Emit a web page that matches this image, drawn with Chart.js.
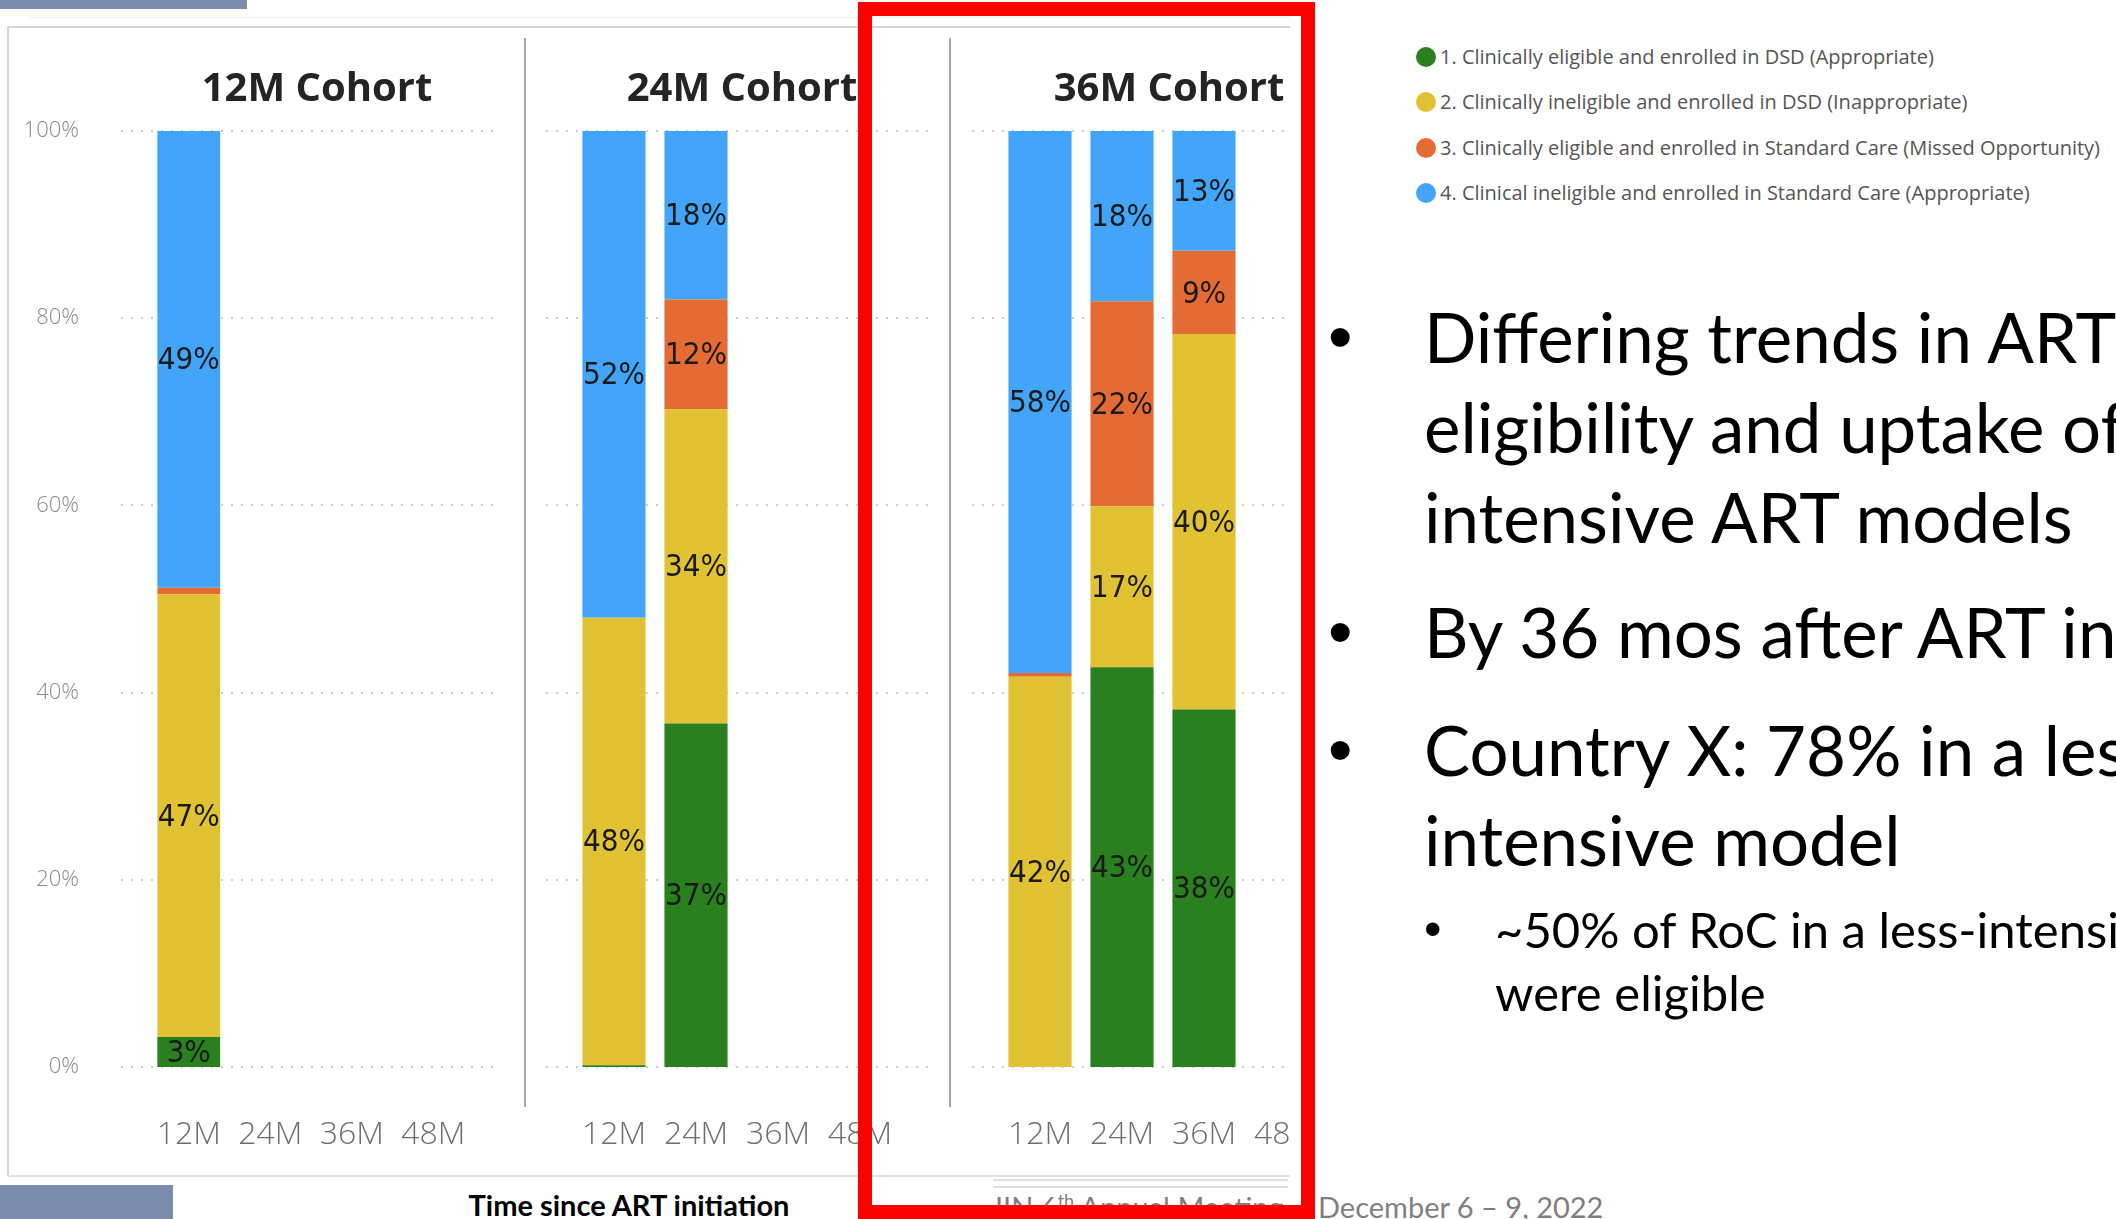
<!DOCTYPE html>
<html>
<head>
<meta charset="utf-8">
<script src="https://cdn.jsdelivr.net/npm/chart.js@4.4.1/dist/chart.umd.min.js"></script>
<style>
  html, body { margin: 0; padding: 0; }
  body { width: 2116px; height: 1219px; overflow: hidden; position: relative; background: #fff; }
  .abs { position: absolute; }
  .line { position: absolute; background: #d6d6d6; }
  .title { position: absolute; width: 400px; text-align: center; font-family: 'Open Sans', sans-serif; font-weight: 700; font-size: 40px; line-height: 50px; color: #252423; white-space: nowrap; }
  .legend-row { position: absolute; left: 1416px; height: 20px; font-family: 'Open Sans', sans-serif; font-size: 20px; line-height: 20px; color: #555; white-space: nowrap; }
  .legend-row span.dot { position: absolute; left: 0; top: 0; width: 20px; height: 20px; border-radius: 50%; }
  .legend-row span.txt { position: absolute; left: 24px; top: 0; }
  .bullet-text { position: absolute; font-family: Lato, 'Open Sans', sans-serif; color: #000; white-space: nowrap; }
  .bullet { position: absolute; font-family: 'Liberation Sans', Arial, sans-serif; color: #000; }
  .footer { position: absolute; font-family: Lato, sans-serif; font-size: 29px; line-height: 36px; color: #7f7f7f; white-space: nowrap; }
</style>
</head>
<body>

<!-- slide decorations -->
<div class="abs" style="left:0;top:0;width:247px;height:9px;background:#7b8cac"></div>
<div class="abs" style="left:0;top:1185px;width:173px;height:34px;background:#7b8cac"></div>
<div class="line" style="left:29px;top:17px;width:1261px;height:1px;background:#eeeeee"></div>
<div class="line" style="left:8px;top:26px;width:1282px;height:2px"></div>
<div class="line" style="left:7px;top:26px;width:2px;height:1150px"></div>
<div class="line" style="left:8px;top:1175px;width:1282px;height:2px;background:#e2e2e2"></div>
<div class="line" style="left:993px;top:1179px;width:295px;height:2px;background:#dcdcdc"></div>
<div class="line" style="left:993px;top:1186px;width:295px;height:2px;background:#dcdcdc"></div>

<!-- charts -->
<canvas id="chart12" class="abs" style="left:0;top:0" width="525" height="1180"></canvas>
<canvas id="chart24" class="abs" style="left:525px;top:0" width="425" height="1180"></canvas>
<div class="abs" style="left:950px;top:0;width:340px;height:1180px;overflow:hidden">
  <canvas id="chart36" class="abs" style="left:0;top:0" width="450" height="1180"></canvas>
</div>

<div class="line" style="left:524px;top:38px;width:2px;height:1069px;background:#a6a6a6"></div>
<div class="line" style="left:949px;top:38px;width:2px;height:1069px;background:#a6a6a6"></div>

<div id="title0" class="title" style="left:117px;top:61px"></div>
<div id="title1" class="title" style="left:542px;top:61px"></div>
<div id="title2" class="title" style="left:969px;top:61px"></div>

<div class="abs" style="left:429px;top:1189px;width:400px;text-align:center;font-family:Lato,sans-serif;font-weight:700;font-size:29px;line-height:32px;color:#000;white-space:nowrap">Time since ART initiation</div>

<div class="footer" style="left:995px;top:1189px">IIN 6<sup style="font-size:18px;line-height:0">th</sup> Annual Meeting</div>
<div class="footer" style="left:1318px;top:1189px">December 6 – 9, 2022</div>

<!-- red highlight box -->
<div class="abs" style="left:858px;top:2px;width:457px;height:1217px;box-sizing:border-box;border:14px solid #ff0000"></div>

<!-- legend -->
<div id="legend"></div>

<!-- bullet text -->
<div class="bullet" style="left:1328px;top:292px;font-size:70px;line-height:90px">•</div>
<div class="bullet-text" style="left:1424px;top:292px;font-size:69px;line-height:90px">Differing trends in ART<br>eligibility and uptake of less-<br>intensive ART models</div>
<div class="bullet" style="left:1328px;top:587px;font-size:70px;line-height:90px">•</div>
<div class="bullet-text" style="left:1424px;top:587px;font-size:69px;line-height:90px">By 36 mos after ART initiation</div>
<div class="bullet" style="left:1328px;top:705px;font-size:70px;line-height:90px">•</div>
<div class="bullet-text" style="left:1424px;top:705px;font-size:69px;line-height:90px">Country X: 78% in a less-<br>intensive model</div>
<div class="bullet" style="left:1424px;top:898px;font-size:50px;line-height:63px">•</div>
<div class="bullet-text" style="left:1495px;top:898px;font-size:49px;line-height:63px">~50% of RoC in a less-intensive model<br>were eligible</div>

<script>
// Categories and tick labels
const timeLabels = ['12M', '24M', '36M', '48M'];
const cohortTitles = ['12M Cohort', '24M Cohort', '36M Cohort'];
const yTicks = [0, 20, 40, 60, 80, 100];

const seriesLabels = [
    '1. Clinically eligible and enrolled in DSD (Appropriate)',
    '2. Clinically ineligible and enrolled in DSD (Inappropriate)',
    '3. Clinically eligible and enrolled in Standard Care (Missed Opportunity)',
    '4. Clinical ineligible and enrolled in Standard Care (Appropriate)'
];
const seriesColors = ['#2a7f1e', '#e1c233', '#e46b34', '#42a5fa'];

// % of cohort, one inner array per cohort (12M, 24M, 36M), values for 12M/24M/36M/48M
const eligibleDSD   = [[3.2, null, null, null], [0.2, 36.7, null, null], [0, 42.7, 38.2, null]];
const ineligibleDSD = [[47.3, null, null, null], [47.8, 33.6, null, null], [41.7, 17.2, 40.1, null]];
const eligibleSC    = [[0.7, null, null, null], [0, 11.7, null, null], [0.4, 21.9, 8.9, null]];
const ineligibleSC  = [[48.8, null, null, null], [52.0, 18.0, null, null], [57.9, 18.2, 12.8, null]];
const seriesValues = [eligibleDSD, ineligibleDSD, eligibleSC, ineligibleSC];

// Titles and legend
cohortTitles.forEach((t, i) => { document.getElementById('title' + i).textContent = t; });

const legendEl = document.getElementById('legend');
seriesLabels.forEach((lab, i) => {
    const row = document.createElement('div');
    row.className = 'legend-row';
    row.style.top = (47 + i * 45.3) + 'px';
    row.innerHTML = `<span class="dot" style="background:${seriesColors[i]}"></span><span class="txt">${lab}</span>`;
    legendEl.appendChild(row);
});

// dotted horizontal grid, a bit wider than the category band (like Power BI)
const dottedGrid = {
    id: 'dottedGrid',
    beforeDatasetsDraw(chart) {
        const { ctx, chartArea, scales } = chart;
        ctx.save();
        ctx.strokeStyle = '#cdcdcd';
        ctx.lineWidth = 2;
        ctx.setLineDash([2, 8]);
        yTicks.forEach(v => {
            const py = Math.round(scales.y.getPixelForValue(v));
            ctx.beginPath();
            ctx.moveTo(chartArea.left - 27, py);
            ctx.lineTo(chartArea.right + 27, py);
            ctx.stroke();
        });
        ctx.restore();
    }
};

// value labels centred in each segment
const segmentLabels = {
    id: 'segmentLabels',
    afterDatasetsDraw(chart) {
        const ctx = chart.ctx;
        ctx.save();
        ctx.fillStyle = '#1a1a1a';
        ctx.font = "31px 'DejaVu Sans Condensed', 'DejaVu Sans', sans-serif";
        ctx.textAlign = 'center';
        ctx.textBaseline = 'middle';
        chart.data.datasets.forEach((ds, i) => {
            const meta = chart.getDatasetMeta(i);
            meta.data.forEach((bar, j) => {
                const v = ds.data[j];
                if (v == null || v < 2) return;
                ctx.fillText(Math.round(v) + '%', bar.x, (bar.y + bar.base) / 2 + 2);
            });
        });
        ctx.restore();
    }
};

function renderCohort(canvasId, cohortIndex, padding, showY) {
    const datasets = seriesLabels.map((lab, s) => ({
        label: lab,
        data: seriesValues[s][cohortIndex],
        backgroundColor: seriesColors[s],
        borderWidth: 0,
        barPercentage: 0.77,
        categoryPercentage: 1.0
    }));

    return new Chart(document.getElementById(canvasId), {
        type: 'bar',
        data: { labels: timeLabels, datasets: datasets },
        options: {
            responsive: false,
            animation: false,
            layout: { padding: padding },
            plugins: {
                legend: { display: false },
                tooltip: { enabled: false },
                title: { display: false }
            },
            scales: {
                x: {
                    stacked: true,
                    offset: true,
                    grid: { display: false, drawTicks: false },
                    border: { display: false },
                    ticks: {
                        color: '#6e6e6e',
                        font: { family: 'Open Sans', size: 32, weight: '300' },
                        padding: 49,
                        maxRotation: 0,
                        autoSkip: false
                    },
                    afterFit: axis => { axis.height = 113; }
                },
                y: {
                    stacked: true,
                    min: 0,
                    max: 100,
                    display: showY,
                    grid: { display: false, drawTicks: false },
                    border: { display: false },
                    ticks: {
                        stepSize: 20,
                        callback: v => v + '%',
                        color: '#8a8a8a',
                        font: { family: 'Open Sans', size: 22, weight: '300' },
                        padding: 69
                    },
                    afterFit: axis => { axis.width = showY ? 148 : 0; }
                }
            }
        },
        plugins: [dottedGrid, segmentLabels]
    });
}

renderCohort('chart12', 0, { top: 131, right: 51, bottom: 0, left: 0 }, true);
renderCohort('chart24', 1, { top: 131, right: 49, bottom: 0, left: 48 }, false);
renderCohort('chart36', 2, { top: 131, right: 73, bottom: 0, left: 49 }, false);
</script>
</body>
</html>
